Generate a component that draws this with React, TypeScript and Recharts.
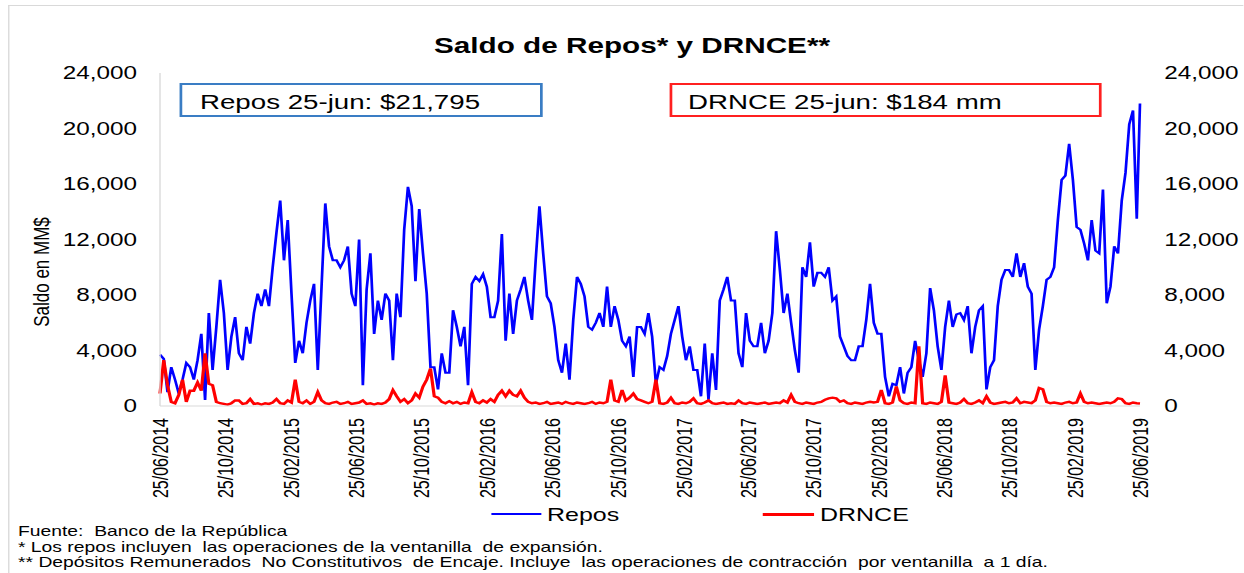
import React from 'react';
import { LineChart, Line, XAxis, YAxis } from 'recharts';

// Saldo de Repos y DRNCE, weekly readings from 25/06/2014 (last point is 25/06/2019)
const tickDates = [
  '25/06/2014', '25/10/2014', '25/02/2015', '25/06/2015', '25/10/2015',
  '25/02/2016', '25/06/2016', '25/10/2016', '25/02/2017', '25/06/2017',
  '25/10/2017', '25/02/2018', '25/06/2018', '25/10/2018', '25/02/2019', '25/06/2019',
];

const yTicks = [0, 4000, 8000, 12000, 16000, 20000, 24000];

const reposValues = [
  3700, 3400, 1000, 2800, 1900, 900, 1900, 3100, 2800, 1900,
  3300, 5200, 430, 6700, 2600, 5700, 9100, 6700, 2600, 5000,
  6400, 3800, 3300, 5700, 4500, 6700, 8100, 7200, 8400, 7200,
  10000, 12500, 14800, 10500, 13400, 8100, 3100, 4700, 3800, 6000,
  7600, 8800, 2600, 8600, 14600, 11500, 10500, 10500, 10000, 10500,
  11500, 8100, 7200, 12000, 1500, 8400, 11000, 5200, 7600, 6200,
  8100, 7600, 3300, 8100, 6400, 12700, 15800, 14400, 9000, 14200,
  11000, 8100, 2800, 2800, 1200, 3800, 2400, 2400, 6900, 5700,
  4300, 5700, 1500, 8800, 9300, 9000, 9500, 8600, 6400, 6400,
  7600, 12400, 4700, 8100, 5200, 7600, 8400, 9300, 7600, 6200,
  10500, 14400, 11000, 7900, 7400, 5700, 3300, 2400, 4500, 1900,
  6200, 9300, 8800, 7900, 5700, 5500, 6000, 6700, 5700, 8600,
  5700, 7200, 6200, 4700, 4300, 5000, 2100, 5700, 5700, 5200,
  6700, 5000, 1600, 2800, 2600, 3600, 5200, 6200, 7200, 5000,
  3300, 4300, 2600, 2600, 700, 4500, 450, 3800, 1150, 7600,
  8400, 9300, 7600, 7600, 3800, 2800, 6700, 4700, 4300, 4300,
  6000, 3800, 4700, 6700, 12600, 9800, 6700, 8100, 6000, 4000,
  2400, 10000, 9300, 11800, 8600, 9600, 9600, 9300, 10000, 7600,
  7900, 5000, 4300, 3600, 3300, 3300, 4300, 4300, 6200, 8800,
  6000, 5200, 5200, 2100, 700, 1600, 1500, 2800, 900, 2400,
  2800, 4700, 3300, 2100, 3800, 8500, 6900, 4300, 2600, 5700,
  7600, 5700, 6600, 6700, 6200, 7200, 3800, 5700, 6900, 7200,
  1200, 2800, 3300, 7200, 9100, 9800, 9800, 9300, 11000, 9300,
  10300, 8600, 8100, 2600, 5500, 7200, 9100, 9300, 10000, 13400,
  16300, 16600, 18900, 16300, 12900, 12700, 11700, 10500, 13400, 11200,
  11000, 15600, 7400, 8600, 11500, 11000, 14800, 16800, 20300, 21300,
  13500, 21795,
];

const drnceValues = [
  900, 3300, 1500, 300, 200, 800, 1900, 300, 1100, 1100,
  1700, 1100, 3800, 1600, 1500, 300, 200, 150, 100, 200,
  400, 400, 150, 200, 500, 150, 200, 100, 200, 150,
  250, 500, 200, 150, 400, 250, 1900, 300, 200, 400,
  150, 300, 1000, 400, 200, 150, 250, 300, 150, 200,
  300, 150, 200, 250, 400, 150, 200, 100, 200, 150,
  250, 500, 1150, 700, 300, 500, 200, 400, 900, 600,
  1400, 1900, 2700, 700, 600, 300, 200, 350, 200, 300,
  150, 250, 200, 1000, 300, 200, 400, 250, 500, 300,
  800, 1100, 700, 1100, 800, 700, 1100, 600, 300, 200,
  250, 150, 200, 300, 150, 200, 250, 150, 300, 200,
  150, 250, 200, 150, 200, 300, 150, 250, 200, 300,
  1900, 400, 300, 1150, 400, 600, 900, 500, 400, 300,
  200, 300, 1900, 200, 150, 250, 600, 200, 150, 250,
  200, 300, 550, 200, 150, 250, 400, 200, 150, 200,
  250, 150, 200, 150, 400, 200, 150, 250, 200, 150,
  200, 250, 150, 200, 250, 200, 400, 250, 800, 300,
  200, 150, 250, 200, 150, 250, 300, 450, 550, 600,
  550, 300, 400, 200, 150, 250, 200, 150, 250, 300,
  250, 300, 1150, 200, 150, 250, 1400, 400, 200, 150,
  250, 200, 4300, 200, 150, 250, 200, 150, 300, 2200,
  250, 200, 150, 250, 500, 200, 150, 250, 400, 200,
  700, 250, 150, 200, 250, 300, 200, 250, 550, 200,
  300, 250, 200, 400, 1300, 1200, 300, 200, 250, 200,
  150, 250, 300, 200, 250, 900, 300, 200, 250, 200,
  150, 200, 250, 200, 300, 550, 500, 200, 150, 250,
  200, 184,
];

const footnotes = [
  'Fuente:  Banco de la República',
  '* Los repos incluyen  las operaciones de la ventanilla  de expansión.',
  '** Depósitos Remunerados  No Constitutivos  de Encaje. Incluye  las operaciones de contracción  por ventanilla  a 1 día.',
];

// the reference picture is stretched sideways, so everything is laid out narrower and scaled back
const S = 1.35;
const W = 1244 / S;
const px = (x: number) => x / S;

const DAY = 86400000;
const parseDate = (s: string) => {
  const [d, m, y] = s.split('/').map(Number);
  return Date.UTC(y, m - 1, d);
};
const pad = (n: number) => String(n).padStart(2, '0');
const fmtDate = (t: number) => {
  const d = new Date(t);
  return `${pad(d.getUTCDate())}/${pad(d.getUTCMonth() + 1)}/${d.getUTCFullYear()}`;
};
const fmtNum = (v: number) => v.toLocaleString('en-US');

const start = parseDate(tickDates[0]);
const end = parseDate(tickDates[tickDates.length - 1]);
const xTicks = tickDates.map(parseDate);

const data = reposValues.map((v, i) => ({
  t: i === reposValues.length - 1 ? end : start + i * 7 * DAY,
  repos: v,
  drnce: drnceValues[i],
}));

const DateTick = ({ x, y, payload }: any) => (
  <text
    x={x}
    y={y}
    transform={`rotate(-90, ${x}, ${y})`}
    textAnchor="end"
    dy="0.36em"
    fontSize={16}
    fill="#000"
  >
    {fmtDate(payload.value)}
  </text>
);

const boxStyle = (left: number, right: number, color: string): React.CSSProperties => ({
  position: 'absolute',
  left: px(left),
  width: px(right) - px(left),
  top: 83,
  height: 34,
  boxSizing: 'border-box',
  border: `2px solid ${color}`,
  fontSize: 20.5,
  lineHeight: 1,
  color: '#000',
  display: 'flex',
  alignItems: 'center',
  paddingTop: 5,
  whiteSpace: 'pre',
});

export default function App() {
  return (
    <div
      style={{
        position: 'absolute',
        left: 0,
        top: 0,
        width: 1244,
        height: 573,
        overflow: 'hidden',
        background: '#fff',
        fontFamily: 'Arial, "Liberation Sans", sans-serif',
      }}
    >
      <div style={{ position: 'relative', width: W, height: 573, transform: `scaleX(${S})`, transformOrigin: '0 0' }}>
        <div
          style={{
            position: 'absolute',
            left: px(8),
            top: 5,
            right: 0,
            bottom: 0,
            borderTop: '1px solid #d9d9d9',
            borderLeft: '1px solid #d9d9d9',
          }}
        />

        <div
          style={{
            position: 'absolute',
            left: px(632),
            top: 35,
            transform: 'translateX(-50%)',
            fontSize: 22,
            fontWeight: 'bold',
            lineHeight: 1,
            whiteSpace: 'nowrap',
          }}
        >
          Saldo de Repos* y DRNCE**
        </div>

        <div
          style={{
            position: 'absolute',
            left: px(42),
            top: 272,
            transform: 'translate(-50%, -50%) rotate(-90deg)',
            fontSize: 17,
            lineHeight: 1,
            whiteSpace: 'nowrap',
          }}
        >
          Saldo en MM$
        </div>

        <div style={{ position: 'absolute', left: 0, top: 0 }}>
          <LineChart
            width={W}
            height={500}
            data={data}
            margin={{ top: 73, right: W - px(1140) - 70, bottom: 4, left: px(160) - 70 }}
          >
            <XAxis
              dataKey="t"
              type="number"
              domain={[start, end]}
              ticks={xTicks}
              interval={0}
              tick={<DateTick />}
              tickLine={false}
              tickSize={0}
              tickMargin={12}
              height={90}
              axisLine={{ stroke: '#d9d9d9' }}
            />
            <YAxis
              yAxisId="left"
              width={70}
              domain={[0, 24000]}
              ticks={yTicks}
              tickFormatter={fmtNum}
              tickLine={false}
              tickSize={0}
              tickMargin={17}
              axisLine={{ stroke: '#d9d9d9' }}
              tick={{ fill: '#000', fontSize: 18 }}
            />
            <YAxis
              yAxisId="right"
              orientation="right"
              width={70}
              domain={[0, 24000]}
              ticks={yTicks}
              tickFormatter={fmtNum}
              tickLine={false}
              tickSize={0}
              tickMargin={18}
              axisLine={false}
              tick={{ fill: '#000', fontSize: 18, textAnchor: 'start' }}
            />
            <Line
              yAxisId="left"
              dataKey="repos"
              stroke="#0000ff"
              strokeWidth={2}
              dot={false}
              isAnimationActive={false}
            />
            <Line
              yAxisId="right"
              dataKey="drnce"
              stroke="#ff0000"
              strokeWidth={2.4}
              dot={false}
              isAnimationActive={false}
            />
          </LineChart>
        </div>

        <div style={boxStyle(180, 543, '#3a7dc4')}>
          <span style={{ paddingLeft: px(200) - px(180) - 2 }}>Repos 25-jun: $21,795</span>
        </div>
        <div style={boxStyle(670, 1101, '#ff2020')}>
          <span style={{ paddingLeft: px(688) - px(670) - 2 }}>DRNCE 25-jun: $184 mm</span>
        </div>

        <div style={{ position: 'absolute', left: px(492), width: px(541) - px(492), top: 513, height: 2, background: '#0000ff' }} />
        <div style={{ position: 'absolute', left: px(547), top: 506, fontSize: 18.5, lineHeight: 1 }}>Repos</div>
        <div style={{ position: 'absolute', left: px(763), width: px(814) - px(763), top: 513, height: 2.5, background: '#ff0000' }} />
        <div style={{ position: 'absolute', left: px(820), top: 506, fontSize: 18.5, lineHeight: 1 }}>DRNCE</div>

        <div style={{ position: 'absolute', left: px(18), top: 524, fontSize: 14.3, lineHeight: '15.5px', whiteSpace: 'pre' }}>
          {footnotes.map((f) => (
            <div key={f}>{f}</div>
          ))}
        </div>
      </div>
    </div>
  );
}
